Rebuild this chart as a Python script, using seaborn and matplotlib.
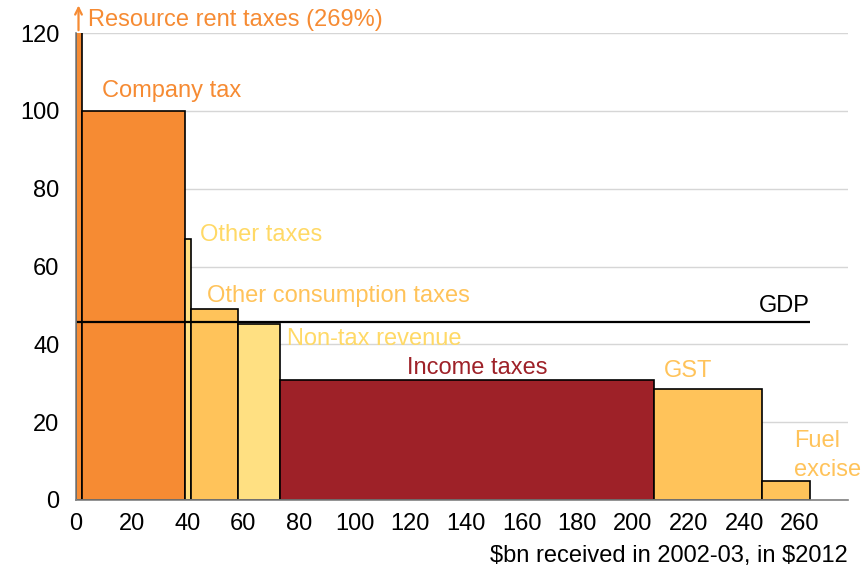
import numpy as np
import matplotlib
matplotlib.use("Agg")
import matplotlib.pyplot as plt
import seaborn as sns

# ---- data ----
categories = ["Resource rent taxes", "Company tax", "Other taxes",
              "Other consumption taxes", "Non-tax revenue", "Income taxes",
              "GST", "Fuel excise"]
widths = [2.2, 36.9, 2.2, 17.0, 14.9, 134.3, 38.8, 17.3]     # $bn received
heights = [269, 100, 67, 49.1, 45.2, 30.8, 28.6, 4.8]        # growth index
gdp_value = 45.8
x_ticks = list(range(0, 261, 20))
y_ticks = list(range(0, 121, 20))

ORANGE = "#F68B33"
GOLD = "#FFC35A"
LIGHT = "#FFE082"
DARKRED = "#9E2128"
colors = [ORANGE, ORANGE, LIGHT, GOLD, LIGHT, DARKRED, GOLD, GOLD]

sns.set_theme(style="white")
plt.rcParams["font.family"] = ["Liberation Sans", "DejaVu Sans"]

fig = plt.figure(figsize=(8.61, 5.72), dpi=100)
ax = fig.add_axes([76/861, 1-500/572, (848-76)/861, (500-33)/572])

lefts = np.concatenate([[0], np.cumsum(widths)[:-1]])
ax.bar(lefts, heights, width=widths, align="edge", color=colors,
       edgecolor="black", linewidth=1.2, zorder=3)

total = float(np.sum(widths))
ax.hlines(gdp_value, 0, total, color="black", linewidth=1.6, zorder=4)

ax.set_xlim(0, 277.2)
ax.set_ylim(0, 120)
ax.set_xticks(x_ticks)
ax.set_yticks(y_ticks)
ax.yaxis.grid(True, color="#D6D6D6", linewidth=1.0, zorder=0)
ax.set_axisbelow(True)
for s in ["top", "right"]:
    ax.spines[s].set_visible(False)
for s in ["left", "bottom"]:
    ax.spines[s].set_color("#808080")
    ax.spines[s].set_linewidth(1.2)
    ax.spines[s].set_zorder(5)
ax.tick_params(axis="both", direction="out", length=5, width=1,
               color="#808080", labelsize=17, labelcolor="black")
ax.tick_params(axis="x", pad=4)
ax.tick_params(axis="y", pad=7)

fs = 17
ax.text(4.3, 123.4, "Resource rent taxes (269%)", color=ORANGE, fontsize=fs,
        va="center", ha="left", clip_on=False)
ax.annotate("", xy=(0.9, 127.8), xytext=(0.9, 120), annotation_clip=False,
            arrowprops=dict(arrowstyle="->", color=ORANGE, lw=1.6))
ax.text(9.2, 105.1, "Company tax", color=ORANGE, fontsize=fs, va="center", ha="left")
ax.text(44.5, 68.1, "Other taxes", color="#FFD966", fontsize=fs, va="center", ha="left")
ax.text(47.0, 52.4, "Other consumption taxes", color=GOLD, fontsize=fs, va="center", ha="left")
ax.text(263.6, 49.9, "GDP", color="black", fontsize=fs, va="center", ha="right")
ax.text(75.8, 41.4, "Non-tax revenue", color="#FFD966", fontsize=fs, va="center", ha="left")
ax.text(144, 33.9, "Income taxes", color=DARKRED, fontsize=fs, va="center", ha="center")
ax.text(211, 33.2, "GST", color=GOLD, fontsize=fs, va="center", ha="left")
ax.text(257.8, 11.4, "Fuel\nexcise", color=GOLD, fontsize=fs, va="center", ha="left",
        linespacing=1.4, clip_on=False)

fig.text(848/861, 1-556/572, r"\$bn received in 2002-03, in \$2012", fontsize=fs,
         ha="right", va="center", color="black")

fig.savefig("out.png", dpi=100)
